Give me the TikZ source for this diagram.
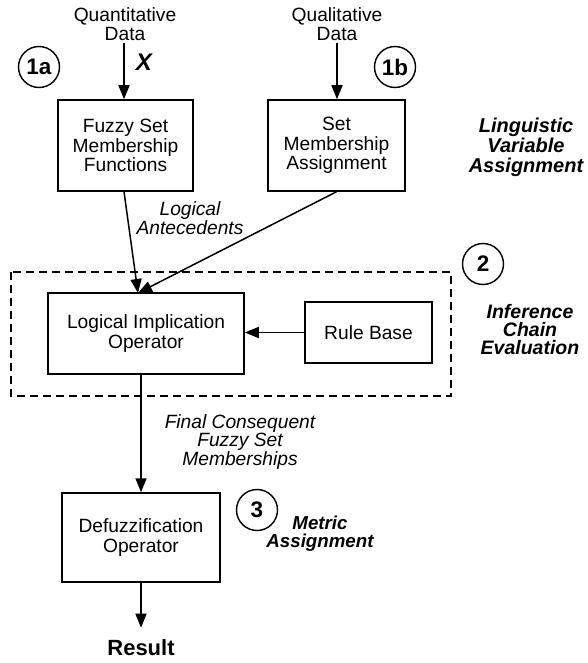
\documentclass[tikz,border=0pt]{standalone}
\usepackage{fontspec}
\setmainfont{Liberation Sans}
\usetikzlibrary{arrows.meta}
\begin{document}
\begin{tikzpicture}[x=1pt,y=-1pt,
  font=\fontsize{19.2}{19.5}\selectfont,
  box/.style={draw,line width=1.5pt,inner sep=0pt,align=center},
  tag/.style={draw,circle,line width=1.4pt,minimum size=41pt,inner sep=0pt,
    font=\fontsize{22.5}{22.5}\selectfont\bfseries},
  note/.style={align=center,font=\fontsize{19.5}{18}\selectfont\bfseries\itshape},
  edgelabel/.style={align=center,font=\fontsize{19.2}{18.7}\selectfont\itshape},
  link/.style={line width=1.5pt},
  flow/.style={link,-{Triangle[length=14pt,width=11pt]}}]
\useasboundingbox (0,0) rectangle (587,663);

% inputs
\node[align=center,inner sep=2pt] (qdata) at (125,24) {Quantitative\\Data};
\node[align=center,inner sep=2pt] (ldata) at (337,24) {Qualitative\\Data};
\node[font=\fontsize{24}{24}\selectfont\bfseries\itshape] (xvar) at (144,62) {X};

% stage 1
\node[box,minimum width=135pt,minimum height=91pt] (fuzzy) at (125.5,145.5)
  {Fuzzy Set\\Membership\\Functions};
\node[box,minimum width=137pt,minimum height=91pt] (setm) at (336.5,145.5)
  {Set\\Membership\\Assignment};
\node[tag] (t1a) at (39,67) {1a};
\node[tag] (t1b) at (395,67) {1b};
\node[note,font=\fontsize{20}{20}\selectfont\bfseries\itshape] (ling) at (526,147)
  {Linguistic\\Variable\\Assignment};
\node[edgelabel] (ante) at (190,218) {Logical\\Antecedents};

% stage 2
\draw[line width=1.3pt,dash pattern=on 8pt off 5pt] (11,272) rectangle (451,396);
\node[box,minimum width=196pt,minimum height=81pt] (logic) at (146,333.5)
  {Logical Implication\\Operator};
\node[box,minimum width=127pt,minimum height=61pt] (rules) at (368.5,332.5)
  {Rule Base};
\node[tag] (t2) at (483,264) {2};
\node[note] (infer) at (530,330) {Inference\\Chain\\Evaluation};
\coordinate (meet) at (138,293);

% stage 3
\node[edgelabel] (cons) at (240,442) {Final Consequent\\Fuzzy Set\\Memberships};
\node[box,minimum width=158pt,minimum height=89pt] (defuzz) at (141,537.5)
  {Defuzzification\\Operator};
\node[tag] (t3) at (257,510) {3};
\node[note,font=\fontsize{18.7}{18}\selectfont\bfseries\itshape] (metric) at (320,534)
  {Metric\\Assignment};
\node[inner sep=0pt,font=\fontsize{22}{22}\selectfont\bfseries] (result) at (141,648) {Result};

% connectors
\draw[flow] (qdata.south -| 124,0) -- (fuzzy.north -| 124,0);
\draw[flow] (ldata.south) -- (setm.north -| ldata.south);
\draw[flow] (fuzzy.south -| 124,0) -- (meet);
\draw[flow] (setm.south) -- (meet);
\draw[flow] (rules.west) -- (rules.west -| logic.east);
\draw[flow] (logic.south -| defuzz.north) -- (defuzz.north);
\draw[flow,shorten >=12pt] (defuzz.south) -- (result.north);
\end{tikzpicture}
\end{document}
